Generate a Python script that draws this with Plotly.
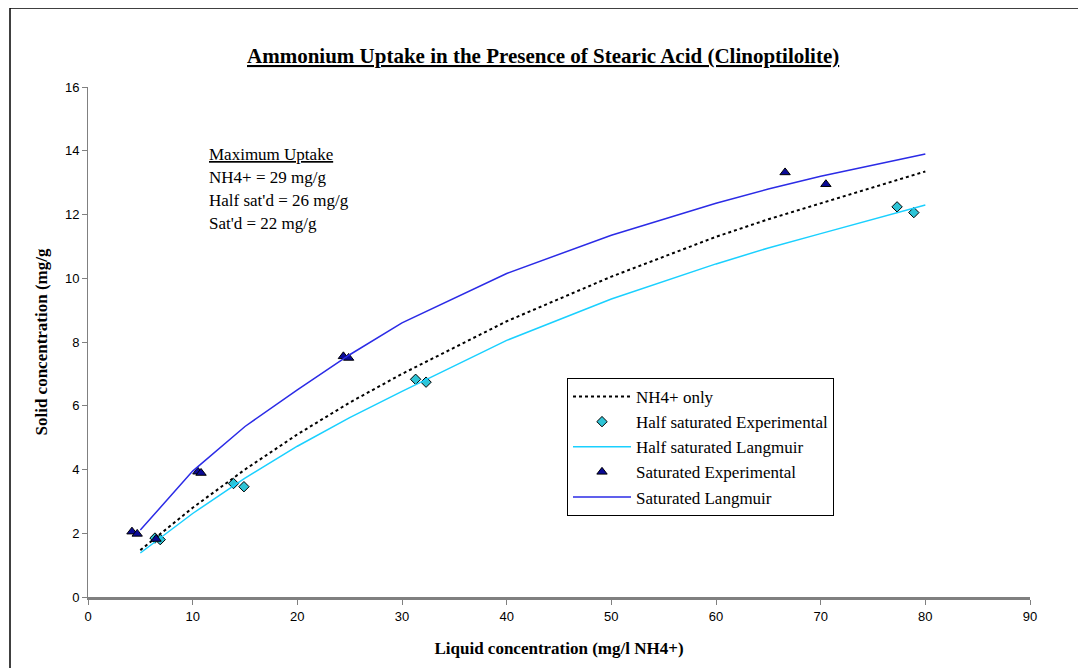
import plotly.graph_objects as go

# ---- data ----
curve_x = [5, 10, 15, 20, 25, 30, 40, 50, 60, 65, 70, 80]
nh4_only = [1.47, 2.80, 4.00, 5.10, 6.10, 7.00, 8.65, 10.05, 11.30, 11.85, 12.35, 13.35]
half_langmuir = [1.38, 2.62, 3.73, 4.73, 5.63, 6.45, 8.05, 9.35, 10.45, 10.95, 11.40, 12.30]
sat_langmuir = [2.10, 3.95, 5.35, 6.50, 7.60, 8.60, 10.15, 11.35, 12.35, 12.80, 13.20, 13.90]

half_exp_x = [6.4, 6.9, 13.9, 14.9, 31.3, 32.3, 77.3, 78.9]
half_exp_y = [1.85, 1.80, 3.56, 3.46, 6.83, 6.74, 12.24, 12.06]

sat_exp_x = [4.2, 4.7, 6.5, 10.5, 10.8, 24.4, 24.9, 66.6, 70.5]
sat_exp_y = [2.05, 1.98, 1.82, 3.93, 3.89, 7.55, 7.50, 13.32, 12.95]

x_ticks = [0, 10, 20, 30, 40, 50, 60, 70, 80, 90]
y_ticks = [0, 2, 4, 6, 8, 10, 12, 14, 16]

title_text = "Ammonium Uptake in the Presence of Stearic Acid (Clinoptilolite)"
x_title = "Liquid concentration (mg/l NH4+)"
y_title = "Solid concentration (mg/g"
note_lines = ["<u>Maximum Uptake</u>", "NH4+ = 29 mg/g", "Half sat'd = 26 mg/g", "Sat'd = 22 mg/g"]

SERIF = "Liberation Serif, Times New Roman, serif"
SANS = "Liberation Sans, Arial, sans-serif"

fig = go.Figure()
fig.add_trace(go.Scatter(x=curve_x, y=nh4_only, mode="lines", name="NH4+ only",
                         line=dict(color="black", width=2, dash="dot"), legendgroup="a"))
fig.add_trace(go.Scatter(x=half_exp_x, y=half_exp_y, mode="markers", name="Half saturated Experimental",
                         marker=dict(symbol="diamond", size=8, color="#2EC4D6",
                                     line=dict(color="black", width=1)), legendgroup="b"))
fig.add_trace(go.Scatter(x=curve_x, y=half_langmuir, mode="lines", name="Half saturated Langmuir",
                         line=dict(color="#1AD0FF", width=1.5), legendgroup="c"))
fig.add_trace(go.Scatter(x=sat_exp_x, y=sat_exp_y, mode="markers", name="Saturated Experimental",
                         marker=dict(symbol="triangle-up", size=9, color="#0A0A96",
                                     line=dict(color="black", width=1)), legendgroup="d"))
fig.add_trace(go.Scatter(x=curve_x, y=sat_langmuir, mode="lines", name="Saturated Langmuir",
                         line=dict(color="#2B2BE6", width=1.5), legendgroup="e"))

annotations = [
    dict(text="<b><u>" + title_text + "</u></b>", xref="paper", yref="paper",
         x=0.4835, y=1.061, xanchor="center", yanchor="middle", showarrow=False,
         font=dict(family=SERIF, size=21, color="black")),
]
note_y = [0.8686, 0.8235, 0.7784, 0.7314]
for t, yy in zip(note_lines, note_y):
    annotations.append(dict(text=t, xref="paper", yref="paper", x=0.1263, y=yy,
                            xanchor="left", yanchor="middle", showarrow=False,
                            font=dict(family=SERIF, size=17, color="black")))

shapes = [
    dict(type="line", xref="paper", yref="paper", x0=-0.0828, x1=1.07, y0=1.1549, y1=1.1549,
         line=dict(color="black", width=1.5)),
    dict(type="line", xref="paper", yref="paper", x0=-0.0828, x1=-0.0828, y0=1.1549, y1=-0.15,
         line=dict(color="black", width=1.5)),
]

fig.update_layout(
    width=1078, height=660,
    margin=dict(l=80, r=56, t=79, b=71),
    paper_bgcolor="white", plot_bgcolor="white",
    showlegend=True,
    legend=dict(x=0.5085, y=0.4294, xanchor="left", yanchor="top",
                bordercolor="black", borderwidth=1, bgcolor="white",
                font=dict(family=SERIF, size=17, color="black"),
                tracegroupgap=0, itemwidth=58),
    annotations=annotations,
    shapes=shapes,
    xaxis=dict(range=[0, 90], tickvals=x_ticks, ticks="outside", ticklen=5, tickcolor="#808080",
               showline=True, linecolor="#808080", linewidth=3, showgrid=False, zeroline=False,
               tickfont=dict(family=SANS, size=13, color="black"),
               title=dict(text="<b>" + x_title + "</b>", font=dict(family=SERIF, size=17, color="black"),
                          standoff=20)),
    yaxis=dict(range=[0, 16], tickvals=y_ticks, ticks="outside", ticklen=5, tickcolor="#808080",
               showline=True, linecolor="#808080", linewidth=1, showgrid=False, zeroline=False,
               tickfont=dict(family=SANS, size=13, color="black"),
               title=dict(text="<b>" + y_title + "</b>", font=dict(family=SERIF, size=17, color="black"),
                          standoff=12)),
)

fig.write_html("out.html")
